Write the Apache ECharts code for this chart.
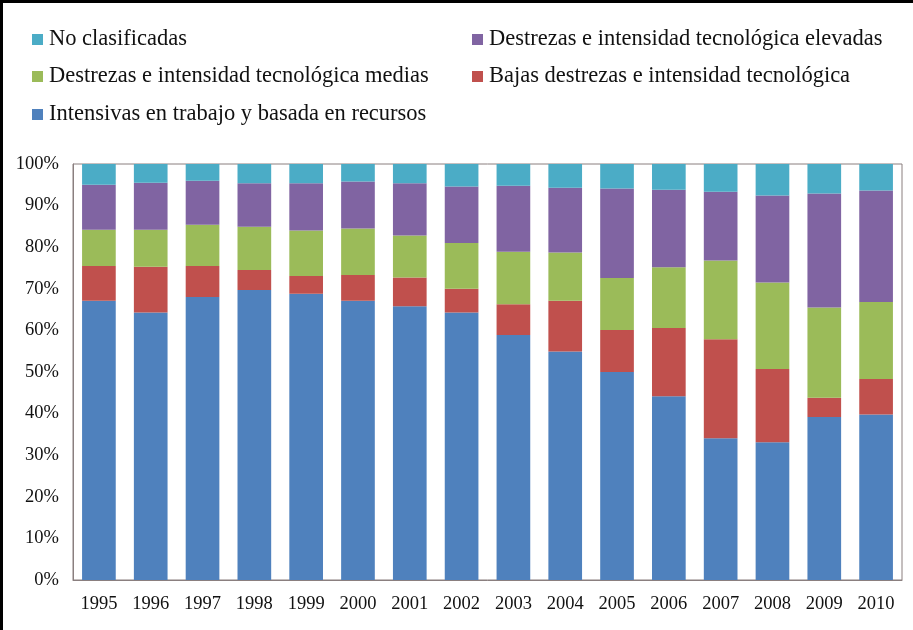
<!DOCTYPE html>
<html>
<head>
<meta charset="utf-8">
<script src="https://cdn.jsdelivr.net/npm/echarts@6/dist/echarts.min.js"></script>
<style>
  html, body { margin: 0; padding: 0; background: #fff; }
  #main { width: 913px; height: 630px; box-sizing: border-box; border-top: 3px solid #000; border-left: 3px solid #000; }
</style>
</head>
<body>
<div id="main"></div>
<script>
var years = ['1995','1996','1997','1998','1999','2000','2001','2002','2003','2004','2005','2006','2007','2008','2009','2010'];

// shares in % per year (bottom to top of the stack)
var intensivas = [67.1, 64.3, 68.0, 69.7, 68.8, 67.1, 65.8, 64.3, 58.9, 54.9, 50.0, 44.2, 34.1, 33.1, 39.2, 39.8];
var bajas      = [8.4, 11.0, 7.5, 4.8, 4.3, 6.2, 6.9, 5.7, 7.4, 12.2, 10.1, 16.4, 23.8, 17.6, 4.6, 8.5];
var medias     = [8.7, 8.9, 9.9, 10.4, 10.9, 11.2, 10.1, 11.0, 12.6, 11.6, 12.5, 14.6, 18.9, 20.8, 21.7, 18.5];
var elevadas   = [10.8, 11.3, 10.6, 10.5, 11.4, 11.3, 12.6, 13.6, 15.9, 15.6, 21.5, 18.6, 16.5, 20.9, 27.4, 26.8];
var noClasif   = [5.0, 4.5, 4.0, 4.6, 4.6, 4.2, 4.6, 5.4, 5.2, 5.7, 5.9, 6.2, 6.7, 7.6, 7.1, 6.4];

var yTicks = [0, 10, 20, 30, 40, 50, 60, 70, 80, 90, 100];

var names = {
  intensivas: 'Intensivas en trabajo y basada en recursos',
  bajas: 'Bajas destrezas e intensidad tecnológica',
  medias: 'Destrezas e intensidad tecnológica medias',
  elevadas: 'Destrezas e intensidad tecnológica elevadas',
  noClasif: 'No clasificadas'
};

var font = '"Liberation Serif", "DejaVu Serif", serif';

var chart = echarts.init(document.getElementById('main'));

function legendAt(name, left, top) {
  return {
    data: [name],
    left: left,
    top: top,
    icon: 'rect',
    itemWidth: 11,
    itemHeight: 11,
    itemGap: 0,
    padding: 0,
    selectedMode: false,
    textStyle: { fontFamily: font, fontSize: 22.5, color: '#111', padding: [0, 0, 0, 1] }
  };
}

function bar(name, data, color) {
  return {
    type: 'bar',
    name: name,
    stack: 'total',
    barCategoryGap: '35%',
    itemStyle: { color: color },
    data: data
  };
}

chart.setOption({
  animation: false,
  legend: [
    legendAt(names.noClasif, 29, 25),
    legendAt(names.elevadas, 469, 25),
    legendAt(names.medias, 29, 62),
    legendAt(names.bajas, 469, 62),
    legendAt(names.intensivas, 29, 100)
  ],
  grid: {
    left: 70,
    right: 11,
    top: 161,
    bottom: 50,
    show: true,
    borderColor: '#8a7f7f',
    borderWidth: 1
  },
  xAxis: {
    type: 'category',
    data: years,
    axisTick: { show: false },
    axisLine: { lineStyle: { color: '#8a7f7f' } },
    axisLabel: { fontFamily: font, fontSize: 18.5, color: '#111', margin: 15 }
  },
  yAxis: {
    type: 'value',
    min: 0,
    max: 100,
    interval: 10,
    splitLine: { show: false },
    axisLine: { show: true, lineStyle: { color: '#8a7f7f' } },
    axisTick: { show: false },
    axisLabel: {
      fontFamily: font, fontSize: 18.5, color: '#111', margin: 14,
      formatter: function (v) { return yTicks.indexOf(v) >= 0 ? v + '%' : ''; }
    }
  },
  series: [
    bar(names.intensivas, intensivas, '#4f81bd'),
    bar(names.bajas, bajas, '#c0504d'),
    bar(names.medias, medias, '#9bbb59'),
    bar(names.elevadas, elevadas, '#8064a2'),
    bar(names.noClasif, noClasif, '#4bacc6')
  ]
});
</script>
</body>
</html>
